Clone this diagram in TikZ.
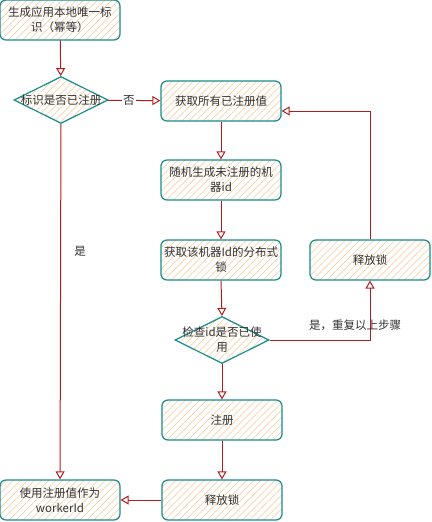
\documentclass[tikz,border=0pt]{standalone}
\usepackage{fontspec}
\newfontfamily\cjkfont{Noto Sans CJK SC}
\usetikzlibrary{arrows.meta,patterns.meta,shapes.geometric,calc}
\definecolor{tealc}{HTML}{168C8C}
\definecolor{hatchc}{HTML}{F8D3A8}
\definecolor{redc}{HTML}{B21E1E}
\definecolor{txtc}{HTML}{333333}
\begin{document}
\begin{tikzpicture}[x=1pt,y=-1pt,
  every node/.style={font=\cjkfont\fontsize{11.5}{15}\selectfont, text=txtc},
  box/.style={rectangle, rounded corners=6pt, draw=tealc, line width=1.2pt,
    pattern={Lines[angle=45,distance=5pt,line width=0.7pt]}, pattern color=hatchc,
    minimum width=120pt, minimum height=40pt, text width=118pt, align=center, inner sep=0pt},
  dia/.style={diamond, draw=tealc, line width=1.2pt,
    pattern={Lines[angle=45,distance=5pt,line width=0.7pt]}, pattern color=hatchc,
    minimum width=94pt, minimum height=47pt, inner sep=0pt},
  dtext/.style={align=center, inner sep=0pt},
  arr/.style={draw=redc, line width=1pt, -{Triangle[open, length=8pt, width=9pt]}},
  lab/.style={inner sep=1pt}
]
\fill[white] (0,0) rectangle (431,522);
\useasboundingbox (0,0) rectangle (431,522);

\node[box] (b1) at (60,20) {生成应用本地唯一标\\识（幂等）};
\node[dia] (d1) at (61,100) {};
\node[dtext] (d1t) at (d1) {标识是否已注册};
\node[box] (b2) at (221,101) {获取所有已注册值};
\node[box] (b3) at (221,180) {随机生成未注册的机\\器id};
\node[box] (b4) at (221,260) {获取该机器Id的分布式\\锁};
\node[box] (b8) at (370,260) {释放锁};
\node[dia] (d2) at (222,340) {};
\node[dtext] (d2t) at (d2) {检查id是否已使\\用};
\node[box] (b5) at (222,420) {注册};
\node[box] (b6) at (222,500) {释放锁};
\node[box] (b7) at (60,500) {使用注册值作为\\workerId};

\coordinate (b2in) at ($(b2.east)+(0,10)$);

\draw[arr] (b1) -- (d1);
\draw[arr] (d1) -- node[lab, pos=0.4, fill=white] (no) {否} (b2);
\draw[arr] (d1) -- (b7);
\node[lab] (yes1) at (80,251) {是};
\draw[arr] (b2) -- (b3);
\draw[arr] (b3) -- (b4);
\draw[arr] (b4.south) -- (d2.north);
\draw[arr] (d2.south) -- (b5.north);
\draw[arr] (b5) -- (b6);
\draw[arr] (b6) -- (b7);
\draw[arr] (d2.east) -| (b8.south);
\node[lab] (yes2) at (355,325) {是，重复以上步骤};
\draw[arr] (b8.north) |- (b2in);
\end{tikzpicture}
\end{document}
